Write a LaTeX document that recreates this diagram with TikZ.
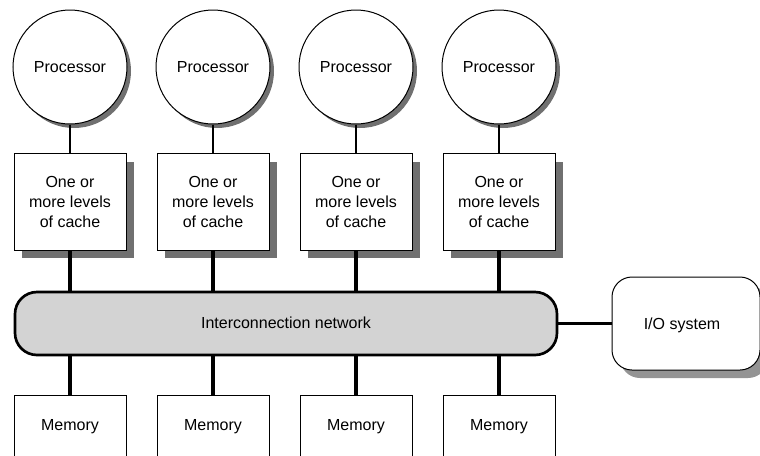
\documentclass[tikz,border=0pt]{standalone}
\usepackage{fontspec}
\setmainfont{Liberation Sans}
\usetikzlibrary{positioning}
\definecolor{shadowgray}{HTML}{707070}
\definecolor{netgray}{HTML}{D3D3D3}
\begin{document}
\begin{tikzpicture}[x=0.75pt,y=-0.75pt,
  every node/.style={font=\fontsize{12}{15}\selectfont},
  proc/.style={circle,draw=black,line width=0.75pt,fill=white,minimum size=114*0.75pt,inner sep=0pt},
  cachebox/.style={rectangle,draw=black,line width=0.75pt,fill=white,minimum width=112*0.75pt,minimum height=97*0.75pt,align=center,inner sep=0pt},
  membox/.style={rectangle,draw=black,line width=0.75pt,fill=white,minimum width=112*0.75pt,minimum height=70*0.75pt,inner sep=0pt,text depth=0pt},
  thin link/.style={line width=0.9pt},
  thick link/.style={line width=2.3pt},
]
\useasboundingbox (0,0) rectangle (760,455);
\foreach \i/\x in {1/70,2/213,3/356,4/499}{
  \fill[shadowgray] (\x+4,71) circle[radius=57*0.75pt];
  \fill[shadowgray] (\x-48,162) rectangle (\x+64,258);
  \node[proc] (p\i) at (\x,67) {Processor};
  \node[cachebox] (c\i) at (\x,201.5) {One or\\more levels\\of cache};
  \node[membox] (m\i) at (\x,430) {};
  \node at (\x,427) (mt\i) {Memory};
}
\fill[shadowgray!75,rounded corners=20*0.75pt] (620,285) rectangle (768,378);
\node[draw=black,line width=0.75pt,fill=white,rounded corners=20*0.75pt,minimum width=148*0.75pt,minimum height=93*0.75pt,inner sep=0pt] (io) at (686,323.5) {};
\node at (682,325) (iot) {I/O system};
\node[draw=black,line width=2pt,fill=netgray,rounded corners=22*0.75pt,minimum width=542*0.75pt,minimum height=63*0.75pt,inner sep=0pt] (net) at (286,323.5) {};
\node at (286,323) (nett) {Interconnection network};
\foreach \i in {1,...,4}{
  \draw[thin link] (p\i.south) -- (c\i.north);
  \draw[thick link] (c\i.south) -- (c\i.south |- net.north);
  \draw[thick link] (m\i.north |- net.south) -- (m\i.north);
}
\draw[thick link] (net.east) -- (io.west);
\end{tikzpicture}
\end{document}
